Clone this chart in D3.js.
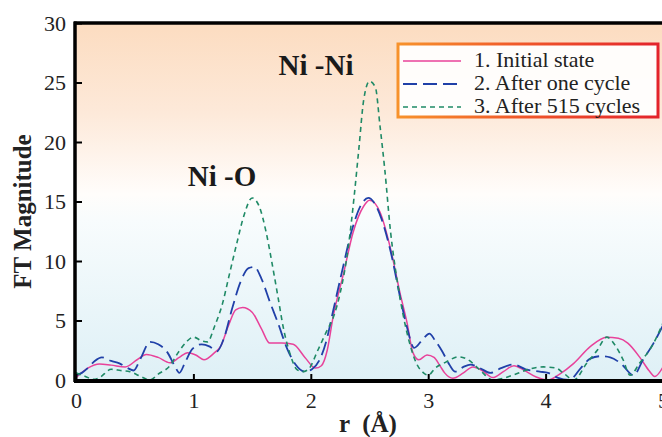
<!DOCTYPE html>
<html><head><meta charset="utf-8">
<script src="https://cdn.jsdelivr.net/npm/d3@7"></script>
<style>html,body{margin:0;padding:0;background:#fff;}svg{display:block;}</style>
</head><body><svg id="c" width="662" height="437"></svg>
<script>
const xTicks = [0,1,2,3,4,5];
const yTicks = [0,5,10,15,20,25,30];
const seriesNames = ["1. Initial state","2. After one cycle","3. After 515 cycles"];

const rInitial = [0,0.1,0.2,0.3,0.42,0.52,0.6,0.7,0.8,0.88,0.95,1.02,1.09,1.18,1.23,1.3,1.36,1.42,1.5,1.58,1.65,1.75,1.85,1.95,2.04,2.09,2.14,2.19,2.28,2.36,2.45,2.5,2.55,2.59,2.68,2.76,2.82,2.87,2.92,2.99,3.05,3.1,3.14,3.21,3.3,3.38,3.46,3.55,3.64,3.73,3.82,3.92,4.02,4.12,4.24,4.38,4.52,4.62,4.7,4.81,4.88,4.93,5.0];
const vInitial = [0.2,1.0,1.35,1.25,1.1,1.7,2.15,1.9,1.45,1.9,2.3,2.1,1.7,2.3,2.8,4.6,5.9,6.1,5.7,4.3,3.1,3.1,3.0,1.9,1.0,1.2,2.5,5.3,9.0,12.4,14.6,15.1,14.8,14.1,11.0,7.3,4.8,2.3,1.7,2.1,1.9,1.2,0.6,0.15,0.6,1.1,0.8,0.2,0.7,1.2,0.8,0.25,0.0,0.5,1.4,2.8,3.6,3.5,3.1,1.8,0.8,0.3,1.1];

const rOne = [0,0.05,0.1,0.16,0.22,0.3,0.37,0.44,0.49,0.55,0.63,0.7,0.78,0.84,0.88,0.93,0.99,1.07,1.14,1.2,1.26,1.33,1.4,1.47,1.52,1.58,1.65,1.72,1.8,1.87,1.95,2.01,2.07,2.13,2.19,2.27,2.35,2.44,2.49,2.54,2.6,2.68,2.76,2.82,2.88,2.96,3.01,3.06,3.12,3.18,3.23,3.3,3.36,3.44,3.53,3.62,3.73,3.83,3.95,4.02,4.1,4.2,4.3,4.38,4.47,4.55,4.64,4.75,4.83,4.92,5.0];
const vOne = [0.4,0.6,1.0,1.6,1.9,1.6,1.4,1.0,0.8,1.8,3.2,3.0,2.3,1.2,0.6,1.5,2.6,3.0,2.8,2.4,3.5,6.0,8.2,9.4,9.5,8.5,6.6,4.8,2.6,1.3,0.7,0.9,1.6,3.2,5.8,9.3,12.6,14.9,15.3,14.9,13.6,10.8,7.0,4.4,2.7,3.5,3.9,3.3,2.4,1.3,0.7,1.1,1.3,1.0,0.6,1.0,1.3,0.9,0.7,0.6,0.2,0.0,1.0,1.8,2.0,1.9,1.4,0.4,1.7,3.1,4.6];

const r515 = [0,0.08,0.15,0.2,0.3,0.38,0.46,0.55,0.63,0.7,0.8,0.87,0.95,1.0,1.07,1.12,1.18,1.25,1.3,1.37,1.43,1.5,1.56,1.62,1.67,1.72,1.77,1.82,1.88,1.93,1.98,2.06,2.13,2.2,2.25,2.32,2.37,2.41,2.45,2.5,2.55,2.59,2.63,2.68,2.73,2.79,2.85,2.9,2.96,3.0,3.06,3.15,3.26,3.34,3.44,3.55,3.72,3.84,3.98,4.09,4.15,4.24,4.35,4.44,4.52,4.6,4.66,4.72,4.8,4.92,5.0];
const v515 = [0.6,0.3,0.05,0.2,0.9,0.8,0.7,0.3,0.0,0.5,1.2,2.3,3.3,3.6,3.3,3.2,4.5,6.5,8.6,11.5,13.8,15.3,14.6,12.4,9.8,7.0,4.2,2.3,0.9,0.7,0.9,2.5,4.0,5.5,7.3,11.2,15.5,19.5,23.5,25.1,24.6,21.3,17.7,12.4,8.7,5.3,2.8,1.4,0.6,0.4,1.0,1.5,1.95,1.7,0.85,0.0,0.4,0.85,1.1,1.0,0.6,0.0,1.4,2.5,3.6,2.8,1.7,0.4,1.4,3.1,4.8];

const svg = d3.select("#c");
const L = 76, R = 663, T = 23, B = 380;
const x = d3.scaleLinear().domain([0,5]).range([L,R]);
const y = d3.scaleLinear().domain([0,30]).range([B,T]);
const serif = "Liberation Serif";

const defs = svg.append("defs");
const bg = defs.append("linearGradient").attr("id","bg").attr("x1",0).attr("y1",0).attr("x2",0).attr("y2",1);
bg.append("stop").attr("offset","0%").attr("stop-color","#fcdcc0");
bg.append("stop").attr("offset","25%").attr("stop-color","#fde9d9");
bg.append("stop").attr("offset","48%").attr("stop-color","#fffdfb");
bg.append("stop").attr("offset","55%").attr("stop-color","#f8fcfd");
bg.append("stop").attr("offset","100%").attr("stop-color","#def0f6");
const lb = defs.append("linearGradient").attr("id","lb").attr("x1",0).attr("y1",0).attr("x2",1).attr("y2",0);
lb.append("stop").attr("offset","0%").attr("stop-color","#f7922b");
lb.append("stop").attr("offset","45%").attr("stop-color","#f05a2a");
lb.append("stop").attr("offset","100%").attr("stop-color","#e3232b");
defs.append("clipPath").attr("id","clip").append("rect").attr("x",L).attr("y",T).attr("width",R-L).attr("height",B-T);

svg.append("rect").attr("x",L).attr("y",T).attr("width",R-L).attr("height",B-T).attr("fill","url(#bg)");

const line = d3.line().x(d=>x(d[0])).y(d=>y(d[1])).curve(d3.curveMonotoneX);
const series = [
  {r:rInitial, v:vInitial, color:"#e8429a", dash:null, w:1.5},
  {r:rOne, v:vOne, color:"#2040a8", dash:"14,6", w:1.8},
  {r:r515, v:v515, color:"#1f8a66", dash:"5,4", w:1.6}
];
const g = svg.append("g").attr("clip-path","url(#clip)");
series.forEach(s=>{
  g.append("path").datum(s.r.map((r,i)=>[r,s.v[i]]))
   .attr("d",line).attr("fill","none").attr("stroke",s.color)
   .attr("stroke-width",s.w).attr("stroke-dasharray",s.dash);
});

// axes
const yAxis = d3.axisLeft(y).tickValues(yTicks).tickSize(-6).tickPadding(10).tickFormat(d3.format("d"));
const ya = svg.append("g").attr("transform",`translate(${L},0)`).call(yAxis).attr("font-family",serif);
ya.select(".domain").remove();
ya.selectAll("line").attr("stroke","#000").attr("stroke-width",2);
ya.selectAll("text").attr("font-family",serif).attr("font-size",22).attr("fill","#222").attr("dy","0.34em");

const xAxis = d3.axisBottom(x).tickValues(xTicks).tickSize(-6).tickPadding(10).tickFormat(d3.format("d"));
const xa = svg.append("g").attr("transform",`translate(0,${B})`).call(xAxis).attr("font-family",serif);
xa.select(".domain").remove();
xa.selectAll("line").attr("stroke","#000").attr("stroke-width",2);
xa.selectAll("text").attr("font-family",serif).attr("font-size",22).attr("fill","#222").attr("dy","0.8em");

// frame
svg.append("line").attr("x1",L-2).attr("x2",R).attr("y1",T).attr("y2",T).attr("stroke","#000").attr("stroke-width",3.5);
svg.append("line").attr("x1",L-1).attr("x2",L-1).attr("y1",T-1.5).attr("y2",B+2).attr("stroke","#000").attr("stroke-width",3.5);
svg.append("line").attr("x1",L-2).attr("x2",R).attr("y1",B+1).attr("y2",B+1).attr("stroke","#000").attr("stroke-width",4);

// axis titles
svg.append("text").attr("transform",`translate(31,${(T+B)/2+10}) rotate(-90)`).attr("text-anchor","middle")
  .attr("font-family",serif).attr("font-weight","bold").attr("font-size",25).attr("fill","#222").text("FT Magnitude");
svg.append("text").attr("x",368).attr("y",432).attr("text-anchor","middle").style("white-space","pre")
  .attr("font-family",serif).attr("font-weight","bold").attr("font-size",25).attr("fill","#222").text("r  (Å)");

// annotations
svg.append("text").attr("x",316).attr("y",75).attr("text-anchor","middle").style("white-space","pre")
  .attr("font-family",serif).attr("font-weight","bold").attr("font-size",29).attr("fill","#1a1a1a").text("Ni -Ni");
svg.append("text").attr("x",222).attr("y",186).attr("text-anchor","middle").style("white-space","pre")
  .attr("font-family",serif).attr("font-weight","bold").attr("font-size",29).attr("fill","#1a1a1a").text("Ni -O");

// legend
const lg = svg.append("g");
lg.append("rect").attr("x",398).attr("y",44).attr("width",260).attr("height",73)
  .attr("fill","#ffffff").attr("fill-opacity",0.92).attr("stroke","url(#lb)").attr("stroke-width",3);
series.forEach((s,i)=>{
  const yy = 61 + i*23;
  lg.append("line").attr("x1",403).attr("x2",461).attr("y1",yy).attr("y2",yy)
    .attr("stroke",s.color).attr("stroke-width",s.w).attr("stroke-dasharray",s.dash);
  lg.append("text").attr("x",474).attr("y",yy+6).attr("font-family",serif).attr("font-size",22)
    .attr("fill","#222").text(seriesNames[i]);
});
</script></body></html>
